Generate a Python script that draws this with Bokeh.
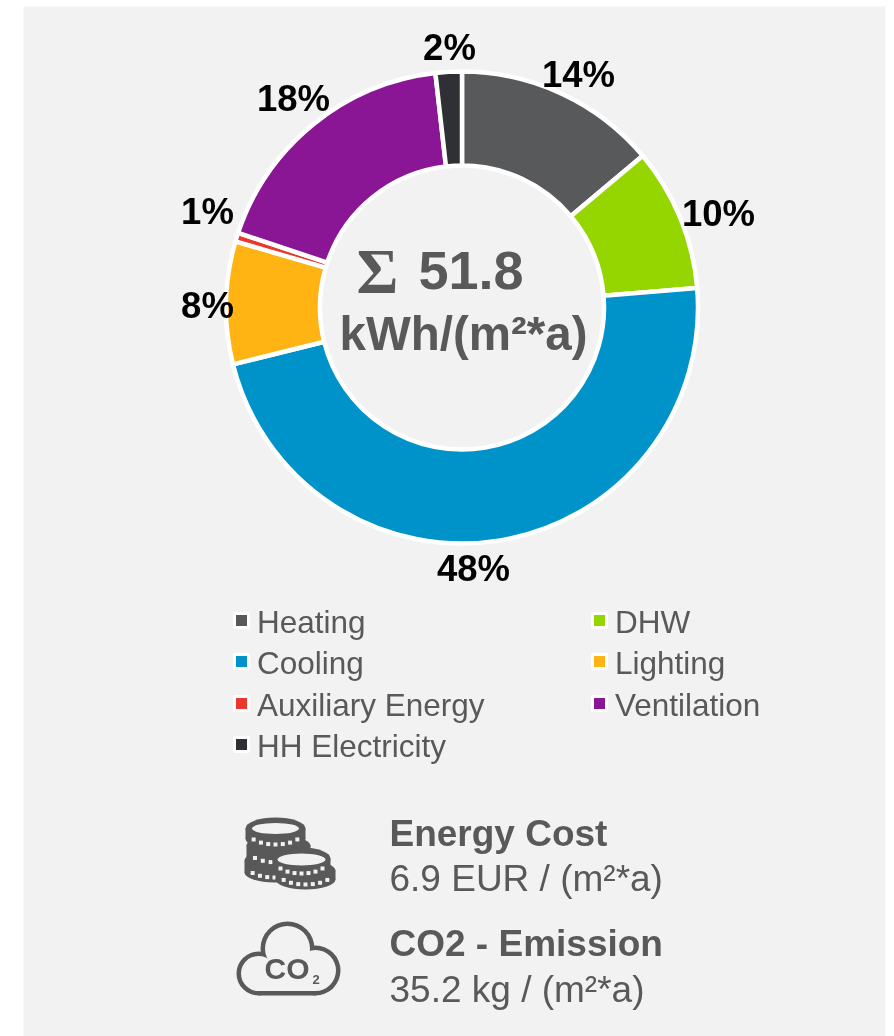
import numpy as np
from bokeh.plotting import figure
from bokeh.models import ColumnDataSource, Range1d
from bokeh.core.properties import value
from bokeh.embed import file_html
from bokeh.resources import INLINE

categories = ["Heating", "DHW", "Cooling", "Lighting", "Auxiliary Energy", "Ventilation", "HH Electricity"]
shares = [13.9, 9.8, 47.5, 8.4, 0.6, 18.1, 1.8]
pct_labels = ["14%", "10%", "48%", "8%", "1%", "18%", "2%"]
colors = ["#58595B", "#96D600", "#0093C9", "#FFB414", "#E8392C", "#8A1696", "#2F3033"]

W, H = 894, 1036
FONT = value("Liberation Sans")
GREY = "#595959"
BG = "#F2F2F2"

def Y(v):
    return H - np.asarray(v, dtype=float)

p = figure(width=W, height=H, x_range=Range1d(0, W), y_range=Range1d(0, H),
           output_backend="svg", toolbar_location=None, min_border=0,
           x_axis_type=None, y_axis_type=None, outline_line_color=None,
           background_fill_color="white", border_fill_color="white",
           styles={"position": "fixed", "left": "0px", "top": "0px"})
p.grid.visible = False

# panel
p.quad(left=[23], right=[885], bottom=[0], top=[Y(6)], fill_color=BG, line_color=None)

# donut
frac = np.array(shares) / sum(shares)
edges = np.concatenate([[0], np.cumsum(frac)]) * 2 * np.pi
CX, CY, RO, RI = 461.5, 307, 236, 142
src = ColumnDataSource(dict(start=np.pi / 2 - edges[:-1], end=np.pi / 2 - edges[1:], color=colors))
p.annular_wedge(x=CX, y=Y(CY), inner_radius=RI, outer_radius=RO, start_angle="start", end_angle="end",
                direction="clock", fill_color="color", line_color="white", line_width=4.5, source=src)

# percent labels
label_x = [578, 718, 473, 207, 207, 293, 449]
label_y = [74, 213, 568, 305, 211, 98, 47]
p.text(x=label_x, y=Y(label_y), text=pct_labels, text_font=FONT, text_font_style="bold",
       text_font_size="36.5px", text_color="#000000", text_align="center", text_baseline="middle")

def txt(x, y, s, size, bold=False, align="left", color=GREY, font=FONT):
    p.text(x=[x], y=Y([y]), text=[s], text_font=font, text_font_style="bold" if bold else "normal",
           text_font_size=f"{size}px", text_color=color, text_align=align, text_baseline="middle")

# centre
txt(356, 271, "Σ", 64, True, font=value("Liberation Serif"))
txt(418, 270, "51.8", 54, True)
txt(339, 333, "kWh/(m²*a)", 47.5, True)

# legend
leg_sq_x = [241, 599, 241, 599, 241, 599, 241]
leg_sq_y = [620, 620, 661, 661, 703, 703, 744]
leg_txt_x = [256.5, 614.5, 256.5, 614.5, 256.5, 614.5, 256.5]
leg_y = [621, 621, 662, 662, 704, 704, 745]
p.rect(x=leg_sq_x, y=Y(leg_sq_y), width=14, height=14, fill_color=colors, line_color="white", line_width=3)
for x, y, c in zip(leg_txt_x, leg_y, categories):
    txt(x, y, c, 31.5)

# info block
txt(389, 833, "Energy Cost", 37, True)
txt(389, 878, "6.9 EUR / (m²*a)", 37)
txt(389, 943, "CO2 - Emission", 37, True)
txt(389, 989, "35.2 kg / (m²*a)", 37)

# coin icon
def coin(cx, top, bottom, w, eh):
    """Dark slab with elliptical top and bottom, with light notches along its lower edge."""
    yb = bottom - eh / 2
    p.ellipse(x=[cx], y=Y([yb]), width=w, height=eh, fill_color=GREY, line_color=None)
    p.quad(left=[cx - w / 2], right=[cx + w / 2], bottom=Y([yb]), top=Y([top]), fill_color=GREY, line_color=None)
    p.ellipse(x=[cx], y=Y([top]), width=w, height=eh, fill_color=GREY, line_color=None)
    a = np.linspace(-1, 1, 7) * 0.84
    xs = cx + a * (w - 8) / 2
    ys = yb + np.sqrt(1 - a ** 2) * eh * 0.5 - 5
    p.rect(x=xs, y=Y(ys), width=4, height=4, fill_color=BG, line_color=None)

coin(274, 860, 882, 60, 20)
coin(278, 845, 867, 64, 20)
coin(275, 828, 849, 60, 22)
p.ellipse(x=[275], y=Y([828]), width=47, height=11, fill_color=BG, line_color=None)
coin(305, 870, 889, 60, 20)
coin(301, 858, 878, 58, 22)
p.ellipse(x=[301], y=Y([859]), width=48, height=12, fill_color=BG, line_color=None)

# cloud icon
cloud_cx = [287, 258, 315]
cloud_cy = [948, 973, 970]
cloud_r = [27, 22, 25]
for col, d in [(GREY, 0), (BG, 4.5)]:
    p.circle(x=cloud_cx, y=Y(cloud_cy), radius=[r - d for r in cloud_r], fill_color=col, line_color=None)
    p.quad(left=[258], right=[315], bottom=Y([995 - d]), top=Y([965]), fill_color=col, line_color=None)
txt(264, 968, "CO", 30, True)
txt(312, 979, "2", 13, True)

open("out.html", "w").write(file_html(p, INLINE))
